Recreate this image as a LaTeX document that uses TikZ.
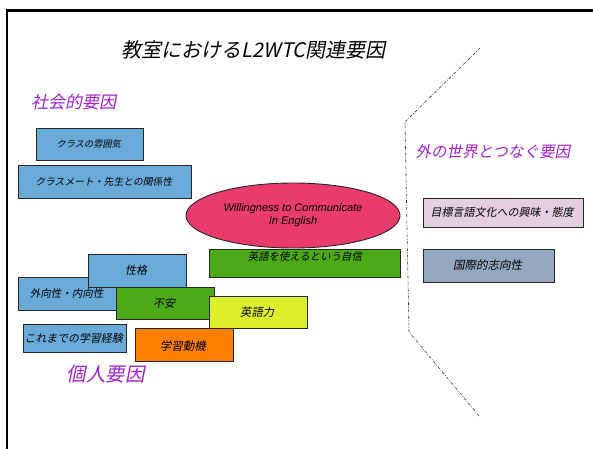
\documentclass[tikz,border=0pt]{standalone}
\usepackage{fontspec}
\setmainfont{Liberation Sans}
\newfontfamily\jp{Noto Sans CJK JP}
\usetikzlibrary{shapes.geometric}
\definecolor{boxblue}{HTML}{6AAAD9}
\definecolor{boxgreen}{HTML}{4CAA18}
\definecolor{boxyellow}{HTML}{DDEE2A}
\definecolor{boxorange}{HTML}{FF7F00}
\definecolor{ellpink}{HTML}{E93C6C}
\definecolor{boxlav}{HTML}{E3CFDF}
\definecolor{boxgray}{HTML}{94A8BF}
\definecolor{purp}{HTML}{A020D0}
\tikzset{
  fbox/.style={draw=black!85, line width=0.9pt, rectangle, inner sep=0pt},
  jt/.style={xslant=0.2, inner sep=0pt, font=\jp\fontsize{#1}{13}\selectfont},
  jt/.default=10.5,
  purplabel/.style={text=purp, inner sep=0pt, xslant=0.2},
  sep/.style={draw=black!80, line width=0.6pt, dash pattern=on 3pt off 1.5pt on 0.8pt off 1.5pt}
}
\begin{document}
\begin{tikzpicture}[x=1pt,y=-1pt]
\useasboundingbox (0,0) rectangle (593,448);
\clip (0,0) rectangle (593,448);
\draw[line width=2.5pt] (7,10.5) rectangle (620,480);

\node[inner sep=0pt, xslant=0.2, font=\jp\fontsize{20}{24}\selectfont] (title) at (255,50) {教室におけるL2WTC関連要因};
\node[purplabel, font=\jp\fontsize{17}{20}\selectfont] (social) at (75,102) {社会的要因};
\node[purplabel, font=\jp\fontsize{19.5}{23}\selectfont] (indiv) at (107,374) {個人要因};
\node[purplabel, font=\jp\fontsize{15.5}{18}\selectfont] (outer) at (494,152) {外の世界とつなぐ要因};

\node[fbox, fill=boxblue, minimum width=107pt, minimum height=32pt, label={[jt=9.2]center:クラスの雰囲気}] (klima) at (89.5,144) {};
\node[fbox, fill=boxblue, minimum width=173pt, minimum height=33pt, label={[jt=9.8]center:クラスメート・先生との関係性}] (kankei) at (104.5,181.5) {};

\node[ellipse, draw=black!85, line width=0.9pt, fill=ellpink, minimum width=214pt, minimum height=65pt, inner sep=0pt, align=center, font=\itshape\fontsize{11}{13}\selectfont] (wtc) at (293,215.5) {Willingness to Communicate\\In English};

\node[fbox, fill=boxgreen, minimum width=191pt, minimum height=28pt, label={[jt=10.4, yshift=6pt]center:英語を使えるという自信}] (jishin) at (304.5,263) {};

\node[fbox, fill=boxblue, minimum width=99pt, minimum height=33pt, label={[jt]center:外向性・内向性}] (gaikou) at (67.5,293.5) {};
\node[fbox, fill=boxblue, minimum width=98pt, minimum height=33pt, label={[jt=11]center:性格}] (seikaku) at (137,270.5) {};
\node[fbox, fill=boxgreen, minimum width=98pt, minimum height=32pt, label={[jt=11]center:不安}] (fuan) at (165,303) {};
\node[fbox, fill=boxyellow, minimum width=98pt, minimum height=32pt, label={[jt=11.3]center:英語力}] (ryoku) at (258,312) {};
\node[fbox, fill=boxblue, minimum width=103pt, minimum height=28pt, label={[jt=10.9]center:これまでの学習経験}] (keiken) at (74.5,338) {};
\node[fbox, fill=boxorange, minimum width=98pt, minimum height=33pt, label={[jt=11.5, yshift=-1.5pt]center:学習動機}] (douki) at (184,344.5) {};

\node[fbox, fill=boxlav, minimum width=160pt, minimum height=29pt, label={[jt=11]center:目標言語文化への興味・態度}] (mokuhyou) at (503,212.5) {};
\node[fbox, fill=boxgray, minimum width=131pt, minimum height=33pt, label={[jt=11.5]center:国際的志向性}] (kokusai) at (488.5,265.5) {};

\coordinate (s1) at (480,48);
\coordinate (s2) at (405,122);
\coordinate (s3) at (409,332);
\coordinate (s4) at (480,417);
\draw[sep] (s1) -- (s2) -- (s3) -- (s4);
\end{tikzpicture}
\end{document}
